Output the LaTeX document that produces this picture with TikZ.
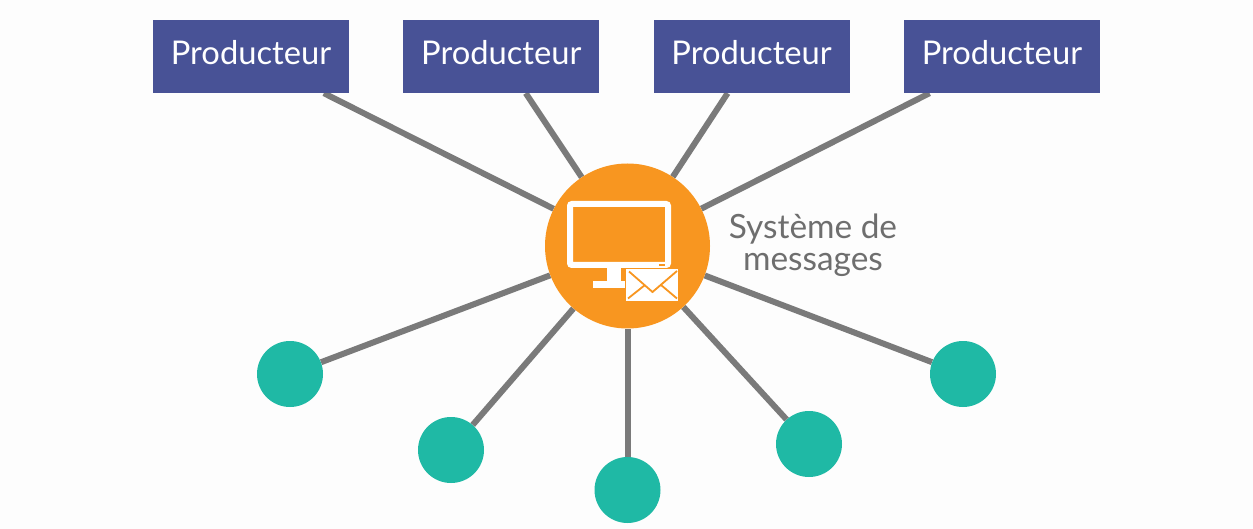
\documentclass[tikz,border=0pt]{standalone}
\usepackage{fontspec}
\setmainfont{Lato}
\usetikzlibrary{positioning,backgrounds}
\definecolor{msgblue}{RGB}{72,82,150}
\definecolor{msgorange}{RGB}{248,150,32}
\definecolor{msgteal}{RGB}{31,185,165}
\definecolor{msgline}{RGB}{122,122,122}
\definecolor{msgtext}{RGB}{110,110,110}
\definecolor{msgbg}{RGB}{253,253,253}
\tikzset{
  prod/.style={
    fill=msgblue, text=white, font=\fontsize{32.7}{36}\selectfont,
    minimum width=196pt, minimum height=73pt, inner sep=0pt, text depth=9pt
  },
  hubnode/.style={circle, fill=msgorange, minimum size=165pt, inner sep=0pt},
  cons/.style={circle, fill=msgteal, minimum size=66pt, inner sep=0pt},
  link/.style={draw=msgline, line width=6pt},
  anno/.style={text=msgtext, align=center, font=\fontsize{33.4}{32}\selectfont, inner sep=0pt},
  icon/.style={draw=white, line width=6pt, rounded corners=2pt},
  fold/.style={draw=msgorange, line width=1.8pt}
}

\begin{document}
\begin{tikzpicture}[x=1pt, y=-1pt]
  \useasboundingbox (0,0) rectangle (1253,529);
  \node[prod] (p1) at (251,56.5) {Producteur};
  \node[prod, right=53.9pt of p1] (p2) {Producteur};
  \node[prod, right=53.9pt of p2] (p3) {Producteur};
  \node[prod, right=53.9pt of p3] (p4) {Producteur};
  \node[hubnode] (hub) at (627.5,246) {};
  \node[cons] (c1) at (290,374) {};
  \node[cons] (c2) at (451,450) {};
  \node[cons] (c3) at (627.5,490) {};
  \node[cons] (c4) at (809,444) {};
  \node[cons] (c5) at (963,374) {};
  \node[anno] (lbl) at (813,245.5) {Système de\\messages};
  \begin{scope}[on background layer]
    \fill[msgbg] (0,0) rectangle (1253,529);
    \foreach \p in {p1,p2,p3,p4,c1,c2,c3,c4,c5} \draw[link] (\p) -- (hub);
  \end{scope}
  % screen and stand
  \draw[icon] (570,204) rectangle (668,265);
  \fill[white] (607,267) rectangle (621,283);
  \fill[white] (593,281) rectangle (630,288);
  \fill[msgorange] (659,264) rectangle (665,266);
  % envelope
  \fill[white, draw=msgorange, line width=1.5pt] (625.5,268.5) rectangle (678.5,301.5);
  \draw[fold] (629,271.5) -- (652.5,292) -- (677,271);
  \draw[fold] (628,298.5) -- (645,285);
  \draw[fold] (677,298.5) -- (661,285);
\end{tikzpicture}
\end{document}
